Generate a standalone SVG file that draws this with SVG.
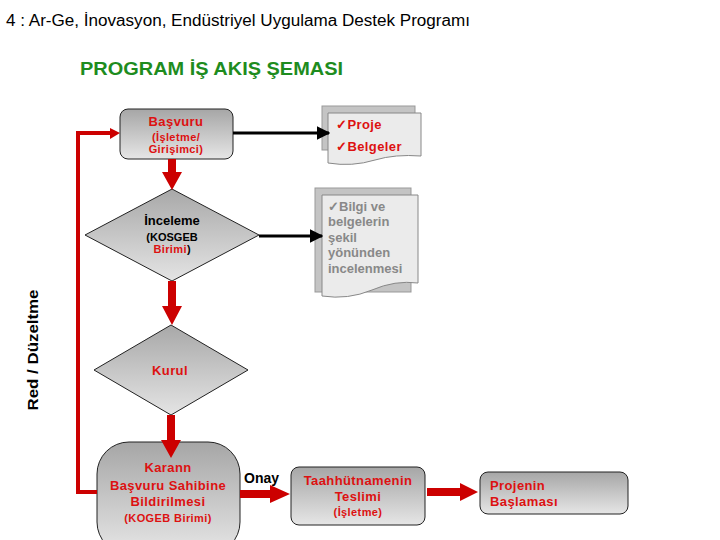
<svg xmlns="http://www.w3.org/2000/svg" width="720" height="540" viewBox="0 0 720 540">
<defs>
<linearGradient id="g" x1="0" y1="0" x2="0" y2="1">
<stop offset="0" stop-color="#a6a6a6"/>
<stop offset="1" stop-color="#e6e6e6"/>
</linearGradient>
<linearGradient id="gd" x1="0" y1="0" x2="0" y2="1">
<stop offset="0" stop-color="#a8a8a8"/>
<stop offset="1" stop-color="#e4e4e4"/>
</linearGradient>
<marker id="ab" viewBox="0 0 10 10" refX="9" refY="5" markerWidth="4.5" markerHeight="5" orient="auto" markerUnits="strokeWidth">
<path d="M0,0 L10,5 L0,10 z" fill="#000"/>
</marker>
<style>
text{font-family:"Liberation Sans",Arial,sans-serif;}
.b{font-weight:bold;}
.r{fill:#dd1111;letter-spacing:0.4px;}
.k{fill:#000;}
.node{fill:url(#g);stroke:#222;stroke-width:1;}
.dia{fill:url(#gd);stroke:#222;stroke-width:1;}
.back{fill:#c4c4c4;stroke:#999;stroke-width:1;}
.front{fill:#ebebeb;stroke:#888;stroke-width:1;}
.red{fill:#cc0000;}
.blk{stroke:#000;stroke-width:3;fill:none;}
</style>
</defs>
<rect width="720" height="540" fill="#fff"/>
<text x="6" y="26" font-size="16" class="k" textLength="464" lengthAdjust="spacingAndGlyphs">4 : Ar-Ge, İnovasyon, Endüstriyel Uygulama Destek Programı</text>
<text x="80" y="75" font-size="18" class="b" fill="#1e8c1e" textLength="263" lengthAdjust="spacingAndGlyphs">PROGRAM İŞ AKIŞ ŞEMASI</text>
<text class="b k" font-size="14" transform="translate(38,350) rotate(-90)" text-anchor="middle" textLength="121" lengthAdjust="spacingAndGlyphs">Red / Düzeltme</text>
<text x="244" y="483" font-size="14" class="b k">Onay</text>

<g id="basvuru">
<rect class="node" x="120" y="109" width="113" height="50" rx="8"/>
<text x="176" y="126" font-size="13" class="b r" text-anchor="middle">Başvuru</text>
<text x="176" y="141" font-size="11" class="b r" text-anchor="middle">(İşletme/</text>
<text x="176" y="153" font-size="11" class="b r" text-anchor="middle">Girişimci)</text>
</g>

<g id="doc1">
<rect class="back" x="322" y="106" width="93" height="44"/>
<path class="front" d="M328,113 H421 V156 Q395,154 375,160 Q352,167 328,163 Z"/>
<text x="336" y="129" font-size="13" class="b r">✓Proje</text>
<text x="336" y="151" font-size="13" class="b r">✓Belgeler</text>
</g>

<g id="inceleme">
<polygon class="dia" points="172,189 259,235 172,281 85,235"/>
<text x="172" y="225" font-size="13" class="b k" text-anchor="middle">İnceleme</text>
<text x="172" y="241" font-size="11" class="b k" text-anchor="middle">(KOSGEB</text>
<text x="172" y="253" font-size="11" class="b" text-anchor="middle"><tspan class="r">Birimi</tspan><tspan class="k">)</tspan></text>
</g>

<g id="doc2">
<rect class="back" x="315" y="188" width="96" height="104"/>
<path class="front" d="M322,195 H418 V283 Q395,280 372,290 Q348,300 322,296 Z"/>
<g font-size="13" class="b" fill="#888">
<text x="328" y="211">✓Bilgi ve</text>
<text x="328" y="226">belgelerin</text>
<text x="328" y="242">şekil</text>
<text x="328" y="257">yönünden</text>
<text x="328" y="273">incelenmesi</text>
</g>
</g>

<g id="kurul">
<polygon class="dia" points="171,325 248,370 171,415 94,370"/>
<text x="170" y="375" font-size="13" class="b r" text-anchor="middle">Kurul</text>
</g>

<g id="karar">
<rect class="node" x="97" y="442" width="143" height="112" rx="32"/>
<text x="168" y="472" font-size="13" class="b r" text-anchor="middle">Karann</text>
<text x="168" y="490" font-size="13" class="b r" text-anchor="middle">Başvuru Sahibine</text>
<text x="168" y="506" font-size="13" class="b r" text-anchor="middle">Bildirilmesi</text>
<text x="168" y="522" font-size="11" class="b r" text-anchor="middle">(KOGEB Birimi)</text>
</g>

<g id="taahhut">
<rect class="node" x="291" y="467" width="134" height="58" rx="8"/>
<text x="358" y="485" font-size="13" class="b r" text-anchor="middle">Taahhütnamenin</text>
<text x="358" y="501" font-size="13" class="b r" text-anchor="middle">Teslimi</text>
<text x="358" y="516" font-size="11" class="b r" text-anchor="middle">(İşletme)</text>
</g>

<g id="projenin">
<rect class="node" x="480" y="472" width="148" height="42" rx="8"/>
<text x="490" y="490" font-size="13" class="b r">Projenin</text>
<text x="490" y="506" font-size="13" class="b r">Başlaması</text>
</g>

<g id="connectors">
<polyline points="97,492 78,492 78,133 112,133" fill="none" stroke="#cc0000" stroke-width="4"/>
<polygon class="red" points="110,128 120,133 110,139"/>
<line class="blk" x1="233" y1="133" x2="329" y2="133" marker-end="url(#ab)"/>
<line class="blk" x1="259" y1="236" x2="322" y2="236" marker-end="url(#ab)"/>
<polygon class="red" points="168,159 176,159 176,172 182,172 172,190 162,172 168,172"/>
<polygon class="red" points="168,281 176,281 176,306 182,306 172,325 162,306 168,306"/>
<polygon class="red" points="167,415 175,415 175,440 181,440 171,458 161,440 167,440"/>
<polygon class="red" points="240,490 270,490 270,485 290,494 270,503 270,498 240,498"/>
<polygon class="red" points="427,488 460,488 460,483 478,492 460,501 460,496 427,496"/>
</g>
</svg>
